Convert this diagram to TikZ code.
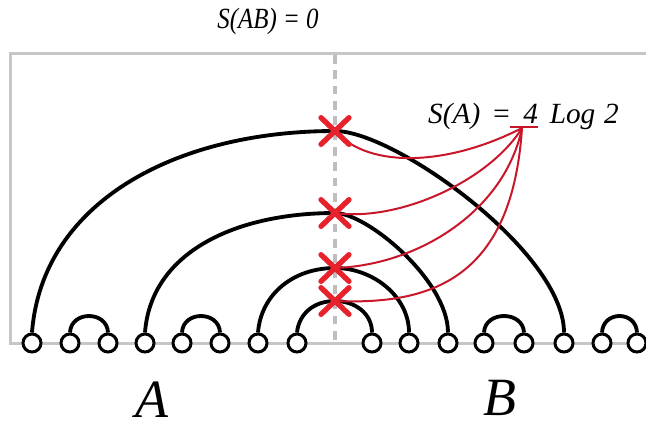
\documentclass[tikz,border=0pt]{standalone}
\usepackage{fontspec}
\setmainfont{Liberation Serif}
\usetikzlibrary{shapes.misc}
\definecolor{framegray}{RGB}{198,198,198}
\definecolor{dashgray}{RGB}{190,190,190}
\definecolor{crossred}{RGB}{232,34,44}
\definecolor{linkred}{RGB}{200,22,42}
\tikzset{
  site/.style={circle,draw=black,fill=white,line width=0.9mm,minimum size=5.4mm,inner sep=0pt},
  bond/.style={draw=black,line width=1.15mm},
  cutmark/.style={cross out,draw=crossred,line width=1.6mm,minimum width=6.8mm,minimum height=6.4mm,inner sep=0pt,line cap=round},
  link/.style={draw=linkred,line width=0.6mm},
  framebox/.style={draw=framegray,line width=0.9mm},
  cutline/.style={draw=dashgray,line width=0.95mm,dash pattern=on 2.6mm off 2mm},
  lbl/.style={inner sep=0pt,font=\itshape\fontsize{25}{30}\selectfont},
  biglbl/.style={inner sep=0pt,font=\itshape\fontsize{46}{52}\selectfont}
}
\begin{document}
\begin{tikzpicture}[x=0.3mm,y=-0.3mm]
\useasboundingbox (0,0) rectangle (646,430);
\clip (0,0) rectangle (646,430);
% frame and cut
\draw[framebox] (10,53) rectangle (720,343);
\draw[cutline] (335,55) -- (335,343);
% sites
\foreach \n/\x in {0/32,1/70,2/108,3/145,4/182,5/220,6/258,7/297,8/372,9/409,10/448,11/484,12/524,13/564,14/602,15/637}
  \coordinate (p\n) at (\x,343);
% crosses positions
\coordinate (q1) at (335,131);
\coordinate (q2) at (335,213);
\coordinate (q3) at (335,268);
\coordinate (q4) at (335,301);
\coordinate (hub) at (522,128);
\coordinate (u1) at (510,127);
\coordinate (u2) at (538,127);
% nodes
\foreach \n in {0,...,15} \node[site] (c\n) at (p\n) {};
% long bonds
\draw[bond] (c0.north) .. controls +(10,-130) and +(-160,0) .. (q1) .. controls +(60,0) and +(0,-80) .. (c13.north);
\draw[bond] (c3.north) .. controls +(6,-80) and +(-100,0) .. (q2) .. controls +(32,0) and +(0,-52) .. (c10.north);
\draw[bond] (c6.north) .. controls +(3,-38) and +(-42,0) .. (q3) .. controls +(38,0) and +(0,-36) .. (c9.north);
\draw[bond] (c7.north) .. controls +(2,-19) and +(-21,0) .. (q4) .. controls +(20,0) and +(0,-19) .. (c8.north);
% short bonds
\foreach \a/\b in {1/2,4/5,11/12,14/15}
  \draw[bond] (c\a.north) .. controls +(1,-22) and +(-1,-22) .. (c\b.north);
% red links
\draw[link] (q1) .. controls +(35,39) and +(-72,37) .. (hub);
\draw[link] (q2) .. controls +(65,9) and +(-32,52) .. (hub);
\draw[link] (q3) .. controls +(85,-3) and +(-17,82) .. (hub);
\draw[link] (q4) .. controls +(95,4) and +(-10,152) .. (hub);
\draw[link] (u1) -- (u2);
% crosses
\node[cutmark] (x1) at (q1) {};
\node[cutmark] (x2) at (q2) {};
\node[cutmark] (x3) at (q3) {};
\node[cutmark] (x4) at (q4) {};
% labels
\node[lbl,anchor=base] (sab) at (268,28) {\scalebox{0.85}[1]{S(AB) = 0}};
\node[lbl,anchor=base west] (sa) at (428,123) {S(A)\hspace{0.38em}=\hspace{0.42em}4\hspace{0.4em}Log\hspace{0.3em}2};
\node[biglbl,anchor=base] (la) at (152,417) {A};
\node[biglbl,anchor=base] (lb) at (500,415) {B};
\end{tikzpicture}
\end{document}
